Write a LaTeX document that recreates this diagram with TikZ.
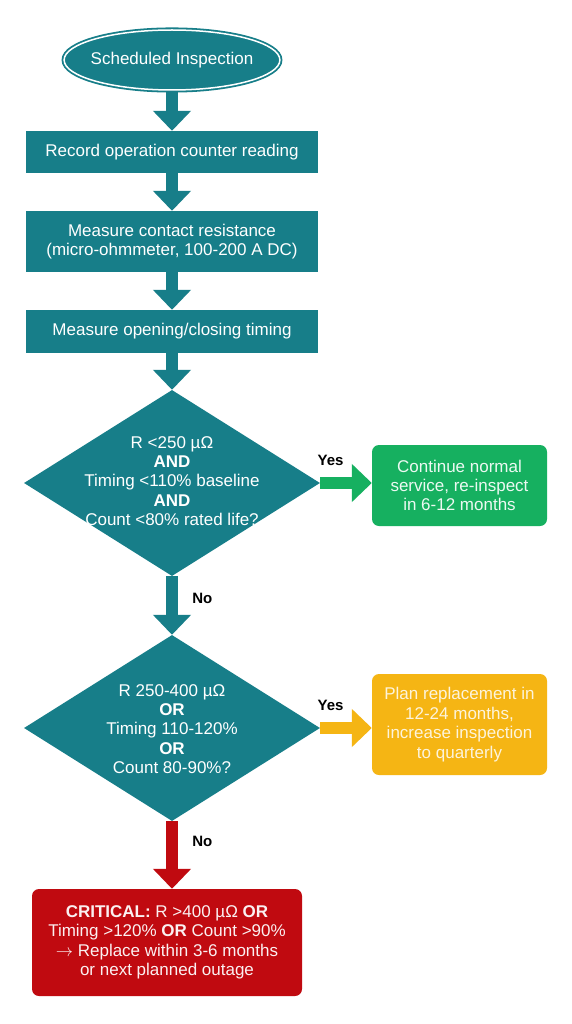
\documentclass[tikz,border=0pt]{standalone}
\usepackage{fontspec}
\setmainfont{Liberation Sans}
\usetikzlibrary{shapes.geometric, arrows.meta}

\definecolor{tealbox}{RGB}{23,126,137}
\definecolor{okgreen}{RGB}{22,176,96}
\definecolor{warnamber}{RGB}{245,181,20}
\definecolor{critred}{RGB}{192,10,16}

\begin{document}
\begin{tikzpicture}[x=1pt, y=-1pt,
    font=\fontsize{17}{19.4}\selectfont,
    stepbox/.style={rectangle, fill=tealbox, text=white, minimum width=292pt, align=center, inner sep=0pt},
    decision/.style={diamond, fill=tealbox, minimum width=296pt, minimum height=186pt, inner sep=0pt},
    qtext/.style={text=white, align=center, inner sep=0pt},
    result/.style={rectangle, rounded corners=7pt, align=center, inner sep=0pt, minimum width=175pt},
    flow/.style={line width=12pt, -{Triangle[length=20pt, width=37pt]}},
    lbl/.style={font=\fontsize{15}{18}\selectfont\bfseries, text=black}
]

    % Page
    \fill[white] (0, 0) rectangle (572, 1024);
    \useasboundingbox (0, 0) rectangle (572, 1024);

    % Start and measuring steps
    \node[ellipse, fill=tealbox, draw=tealbox, double=white, line width=1.8pt, double distance=1.5pt,
          minimum width=210pt, minimum height=60pt, inner xsep=-5pt, text=white] (start) at (172, 60) {Scheduled Inspection};
    \node[stepbox, minimum height=42pt] (record) at (172, 152) {Record operation counter reading};
    \node[stepbox, minimum height=61pt] (resist) at (172, 241.5) {Measure contact resistance\\(micro-ohmmeter, 100-200 A DC)};
    \node[stepbox, minimum height=43pt] (timing) at (172, 331.5) {Measure opening/closing timing};

    % Checks
    \node[decision] (okcheck) at (172, 483) {};
    \node[qtext] (oktext) at (172, 481) {R <250 µΩ\\\textbf{AND}\\Timing <110\% baseline\\\textbf{AND}\\Count <80\% rated life?};
    \node[decision] (warncheck) at (172, 728) {};
    \node[qtext] (warntext) at (172, 729) {R 250-400 µΩ\\\textbf{OR}\\Timing 110-120\%\\\textbf{OR}\\Count 80-90\%?};

    % Outcomes
    \node[result, fill=okgreen, text=white!92!okgreen, minimum height=81pt] (service) at (459.5, 485.5) {Continue normal\\service, re-inspect\\in 6-12 months};
    \node[result, fill=warnamber, text=white!85!warnamber, minimum height=101pt] (plan) at (459.5, 724.5) {Plan replacement in\\12-24 months,\\increase inspection\\to quarterly};
    \node[result, fill=critred, text=white!94!critred, minimum width=270pt, minimum height=107pt] (replace) at (167, 942.5) {\textbf{CRITICAL:} R >400 µΩ \textbf{OR}\\Timing >120\% \textbf{OR} Count >90\%\\$\rightarrow$ Replace within 3-6 months\\or next planned outage};

    % Arrows
    \draw[flow, tealbox] (start.south) -- (record.north);
    \draw[flow, tealbox] (record.south) -- (resist.north);
    \draw[flow, tealbox] (resist.south) -- (timing.north);
    \draw[flow, tealbox] (timing.south) -- (okcheck.north);
    \draw[flow, okgreen] (okcheck.east) -- (okcheck.east -| service.west) node[lbl, pos=0.2, above=8pt] {Yes};
    \draw[flow, tealbox] (okcheck.south) -- (warncheck.north) node[lbl, pos=0.38, right=11pt] {No};
    \draw[flow, warnamber] (warncheck.east) -- (warncheck.east -| plan.west) node[lbl, pos=0.2, above=8pt] {Yes};
    \draw[flow, critred] (warncheck.south) -- (warncheck.south |- replace.north) node[lbl, pos=0.3, right=11pt] {No};

\end{tikzpicture}
\end{document}
